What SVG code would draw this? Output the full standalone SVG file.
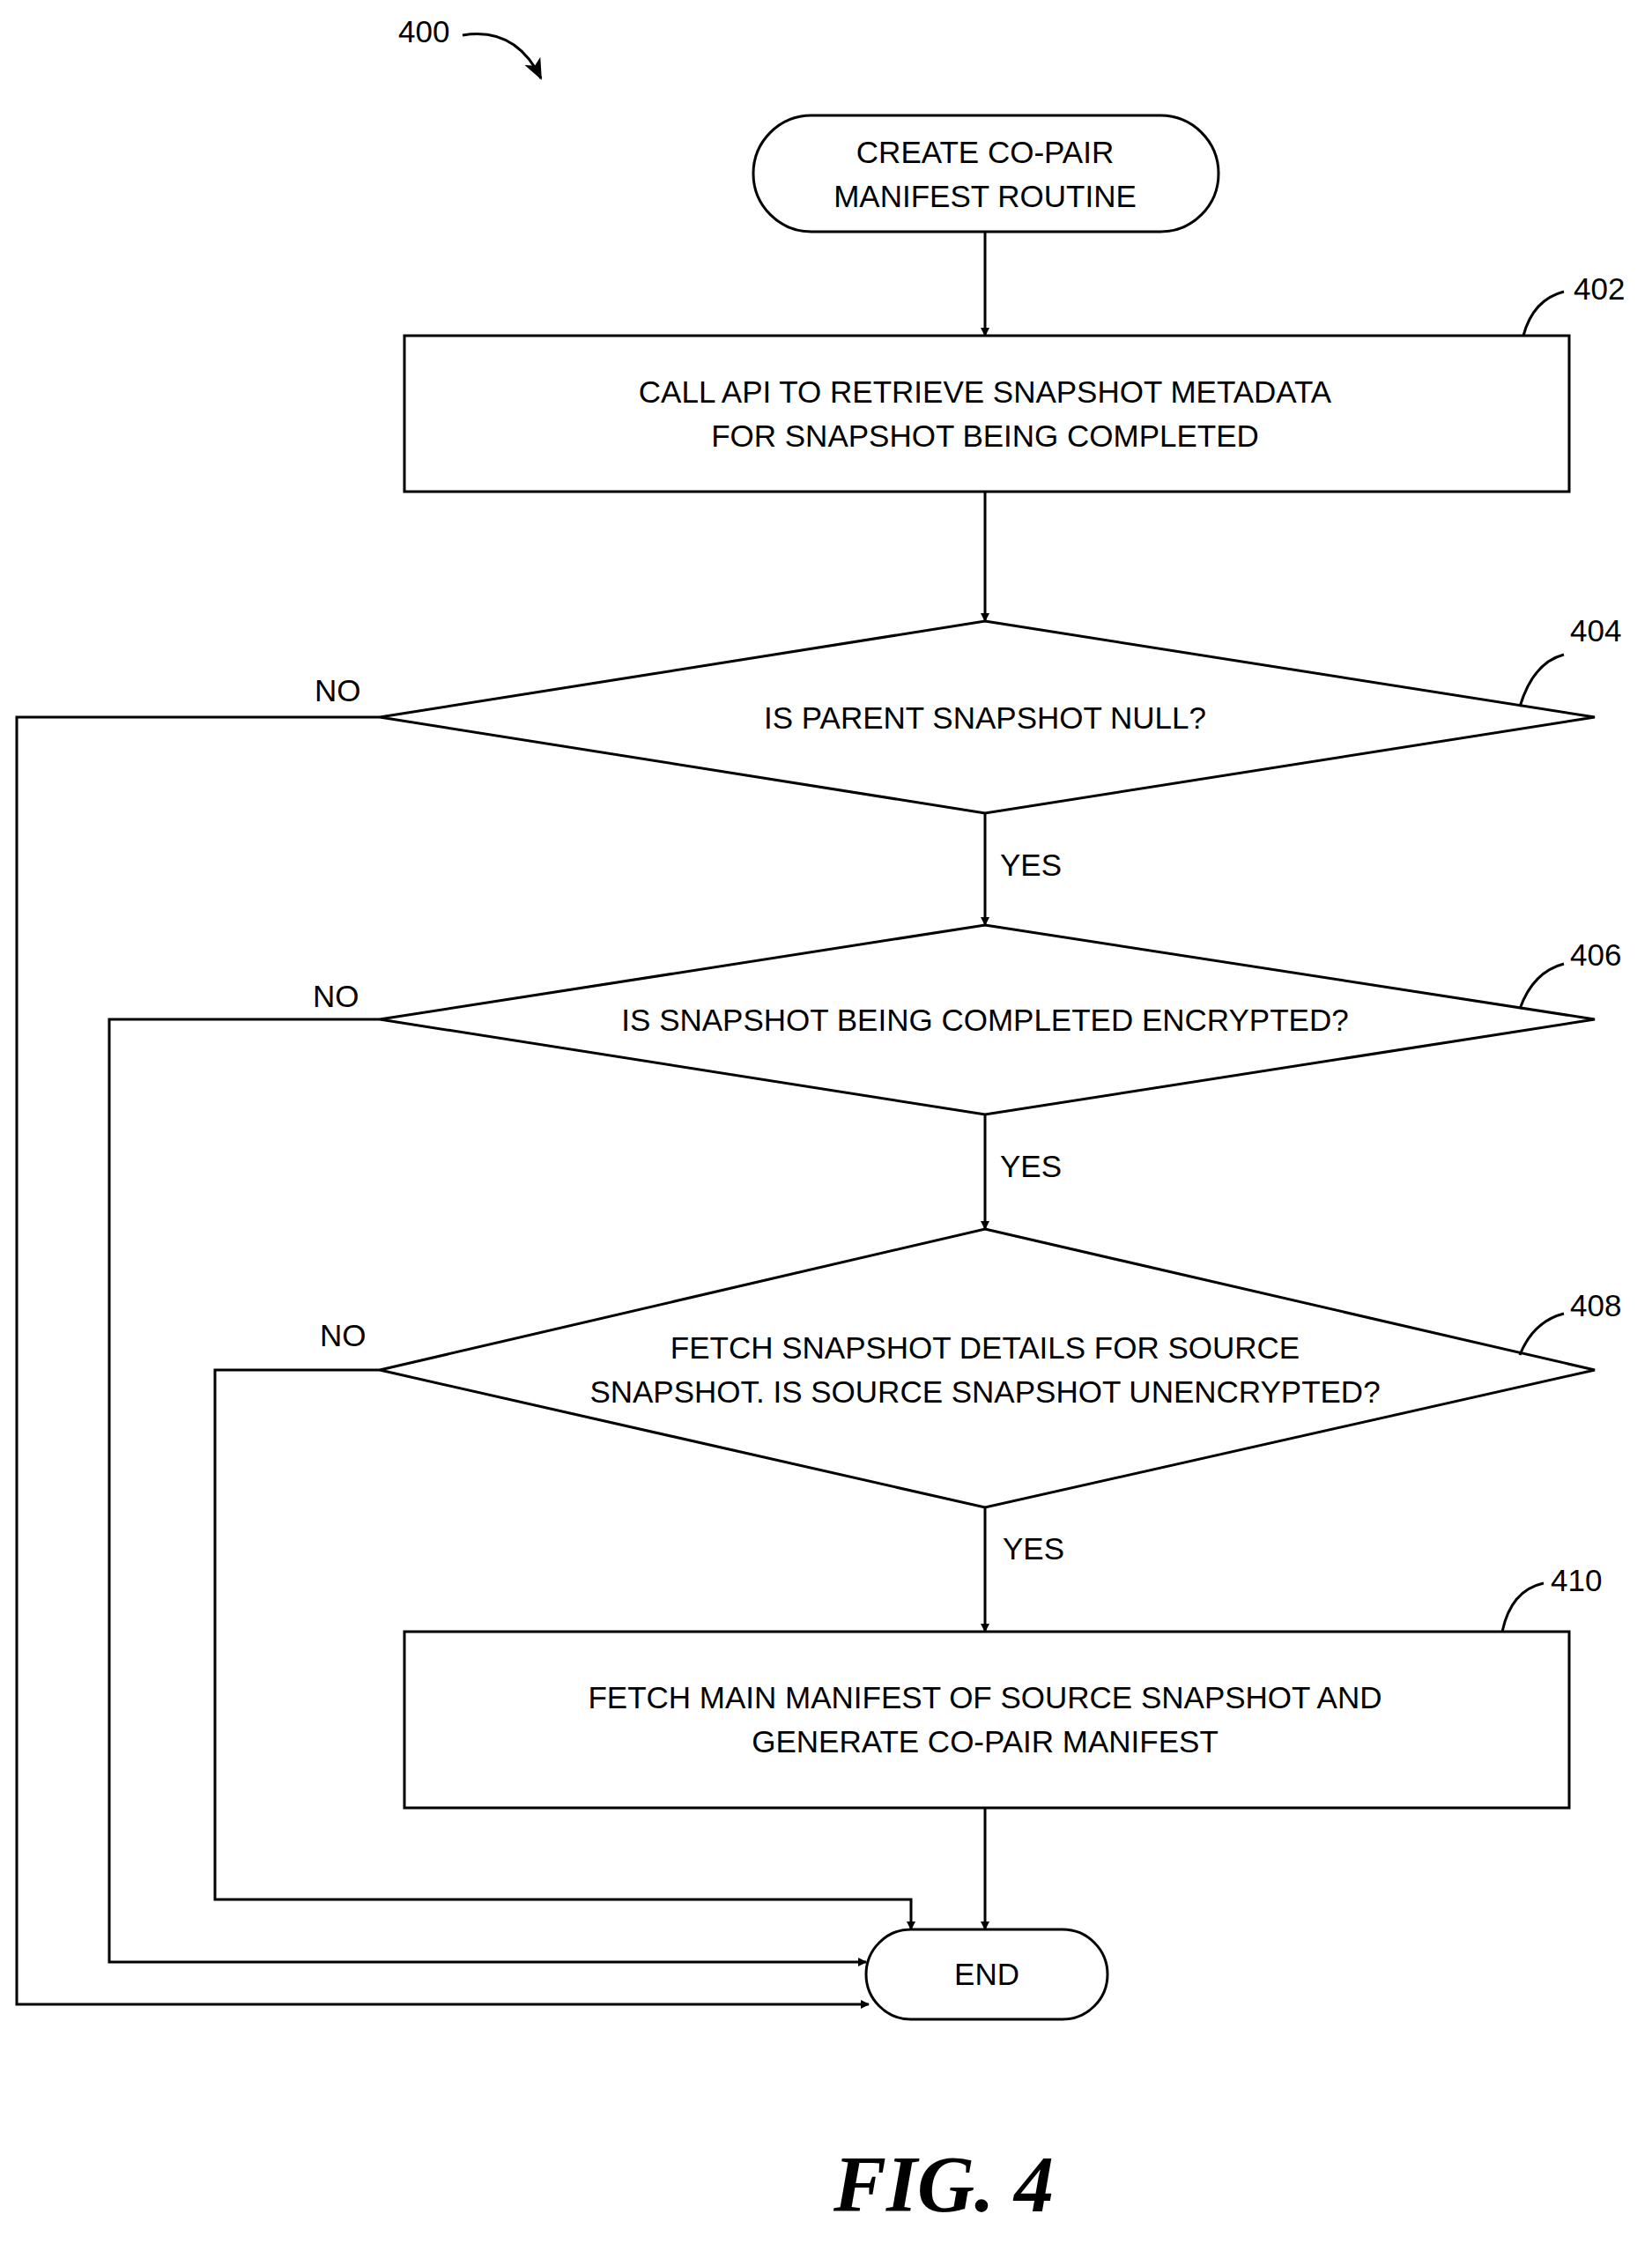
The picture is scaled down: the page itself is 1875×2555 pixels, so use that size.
<svg xmlns="http://www.w3.org/2000/svg" width="1875" height="2555" viewBox="0 0 1875 2555">
<style>
.s{fill:#fff;stroke:#000;stroke-width:3}
.l{fill:none;stroke:#000;stroke-width:3}
.t{font-family:"Liberation Sans",Arial,sans-serif;font-size:35px;fill:#000;text-anchor:middle}
.r{font-family:"Liberation Sans",Arial,sans-serif;font-size:35px;fill:#000}
</style>
<defs><marker id="a" markerWidth="10" markerHeight="10" refX="9" refY="5" orient="auto" markerUnits="userSpaceOnUse" viewBox="0 0 10 10"><path d="M0,0 L10,5 L0,10 z" fill="#000"/></marker>
<marker id="b" markerWidth="24" markerHeight="24" refX="22" refY="12" orient="auto" markerUnits="userSpaceOnUse"><path d="M0,2 L24,12 L0,22 L6,12 z" fill="#000"/></marker></defs>
<rect width="1875" height="2555" fill="#fff"/>
<text class="r" x="452" y="48">400</text>
<path class="l" d="M525,40 Q585,30 614,89" marker-end="url(#b)"/>
<g id="start"><rect class="s" x="855" y="131" width="528" height="132" rx="66"/><text class="t" x="1118" y="185">CREATE CO-PAIR</text><text class="t" x="1118" y="235">MANIFEST ROUTINE</text></g>
<g id="n402"><rect class="s" x="459" y="381" width="1322" height="177"/><text class="t" x="1118" y="457">CALL API TO RETRIEVE SNAPSHOT METADATA</text><text class="t" x="1118" y="507">FOR SNAPSHOT BEING COMPLETED</text><text class="r" x="1786" y="340">402</text><path class="l" d="M1729,381 Q1740,340 1775,331"/></g>
<g id="n404"><path class="s" d="M1118,705 L1810,814 L1118,923 L431,814 z"/><text class="t" x="1118" y="827">IS PARENT SNAPSHOT NULL?</text><text class="r" x="1782" y="728">404</text><path class="l" d="M1725,802 Q1740,752 1775,743"/></g>
<g id="n406"><path class="s" d="M1118,1050 L1810,1157 L1118,1265 L431,1157 z"/><text class="t" x="1118" y="1170">IS SNAPSHOT BEING COMPLETED ENCRYPTED?</text><text class="r" x="1782" y="1096">406</text><path class="l" d="M1725,1145 Q1740,1103 1775,1094"/></g>
<g id="n408"><path class="s" d="M1118,1395 L1810,1555 L1118,1711 L431,1555 z"/><text class="t" x="1118" y="1542">FETCH SNAPSHOT DETAILS FOR SOURCE</text><text class="t" x="1118" y="1592">SNAPSHOT. IS SOURCE SNAPSHOT UNENCRYPTED?</text><text class="r" x="1782" y="1494">408</text><path class="l" d="M1725,1538 Q1740,1500 1775,1491"/></g>
<g id="n410"><rect class="s" x="459" y="1852" width="1322" height="200"/><text class="t" x="1118" y="1939">FETCH MAIN MANIFEST OF SOURCE SNAPSHOT AND</text><text class="t" x="1118" y="1989">GENERATE CO-PAIR MANIFEST</text><text class="r" x="1760" y="1806">410</text><path class="l" d="M1705,1852 Q1715,1805 1752,1797"/></g>
<g id="end"><rect class="s" x="983" y="2190" width="274" height="102" rx="51"/><text class="t" x="1120" y="2253">END</text></g>
<g id="connectors">
<path class="l" d="M1118,263 V381" marker-end="url(#a)"/>
<path class="l" d="M1118,558 V705" marker-end="url(#a)"/>
<path class="l" d="M1118,923 V1050" marker-end="url(#a)"/>
<path class="l" d="M1118,1265 V1395" marker-end="url(#a)"/>
<path class="l" d="M1118,1711 V1852" marker-end="url(#a)"/>
<path class="l" d="M1118,2052 V2190" marker-end="url(#a)"/>
<path class="l" d="M431,814 H19 V2275 H986" marker-end="url(#a)"/>
<path class="l" d="M431,1157 H124 V2227 H983" marker-end="url(#a)"/>
<path class="l" d="M431,1555 H244 V2156 H1034 V2190" marker-end="url(#a)"/>
<text class="r" x="357" y="796">NO</text>
<text class="r" x="355" y="1143">NO</text>
<text class="r" x="363" y="1528">NO</text>
<text class="r" x="1135" y="994">YES</text>
<text class="r" x="1135" y="1336">YES</text>
<text class="r" x="1138" y="1770">YES</text>
</g>
<text x="1071" y="2510" text-anchor="middle" font-family="Liberation Serif,serif" font-style="italic" font-weight="bold" font-size="90">FIG. 4</text>
</svg>
